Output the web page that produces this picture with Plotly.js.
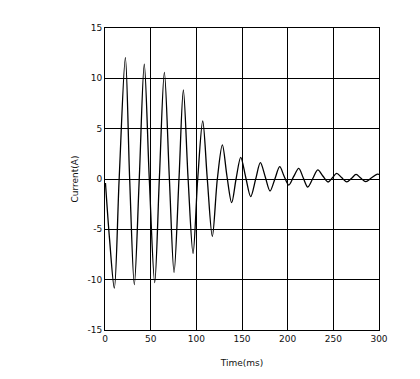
<!DOCTYPE html>
<html>
<head>
<meta charset="utf-8">
<script src="https://cdn.plot.ly/plotly-3.0.1.min.js"></script>
<style>
html,body{margin:0;padding:0;background:#fff;}
#chart{width:420px;height:379px;}
</style>
</head>
<body>
<div id="chart"></div>
<script>
// Time (ms) and current (A): extremes and crossings
var timeMs = [0.5, 5, 10.2, 15.5, 22.3, 27, 32.1, 37.5, 43, 48.5, 54.4, 59.5, 65, 70.5, 75.6, 81, 85.8, 91,
  96.4, 101.5, 107, 112, 117.5, 123, 128.5, 133.5, 138.7, 143.5, 148.6, 154, 159.5, 165, 170.1, 175.5,
  180.7, 186, 191.3, 196, 201.2, 206.5, 212.1, 217, 222, 227.5, 233, 238.5, 244.2, 249, 253.7, 259,
  264.6, 270, 274.9, 280, 285.5, 291.5, 297.6, 300];
var currentA = [-0.4, -6, -10.85, 0, 12.05, 0, -10.5, 0, 11.4, 0, -10.3, 0, 10.6, 0, -9.3, 0, 8.84, 0,
  -7.4, 0, 5.76, 0, -5.7, 0, 3.38, 0.3, -2.35, 0, 2.15, 0.2, -1.75, 0, 1.62, 0.2,
  -1.19, 0, 1.22, 0.3, -0.6, 0.23, 1.06, 0.13, -0.8, 0.05, 0.9, 0.3, -0.3, 0.13, 0.56, 0.14,
  -0.28, 0.08, 0.45, 0.09, -0.27, 0.1, 0.47, 0.45];
var xTicks = [0, 50, 100, 150, 200, 250, 300];
var yTicks = [-15, -10, -5, 0, 5, 10, 15];

var font = {family: 'DejaVu Sans, sans-serif', size: 9, color: '#111'};
var trace = {
  x: timeMs, y: currentA, type: 'scatter', mode: 'lines',
  line: {color: '#000', width: 1.3, shape: 'spline', smoothing: 0.9},
  hoverinfo: 'none'
};
var axisCommon = {
  showgrid: true, gridcolor: '#000', gridwidth: 1,
  zeroline: true, zerolinecolor: '#000', zerolinewidth: 1,
  showline: true, linecolor: '#000', linewidth: 1, mirror: true,
  ticks: '', tickfont: font
};
var layout = {
  width: 420, height: 379,
  margin: {l: 105, r: 41, t: 28, b: 49},
  paper_bgcolor: '#fff', plot_bgcolor: '#fff',
  showlegend: false,
  xaxis: Object.assign({}, axisCommon, {
    range: [0, 300], tickvals: xTicks, ticktext: xTicks.map(String),
    title: {text: 'Time(ms)', font: font, standoff: 16}
  }),
  yaxis: Object.assign({}, axisCommon, {
    range: [-15, 15], tickvals: yTicks, ticktext: yTicks.map(String),
    title: {text: 'Current(A)', font: font, standoff: 7}
  })
};
Plotly.newPlot('chart', [trace], layout, {staticPlot: true, displayModeBar: false});
</script>
</body>
</html>
